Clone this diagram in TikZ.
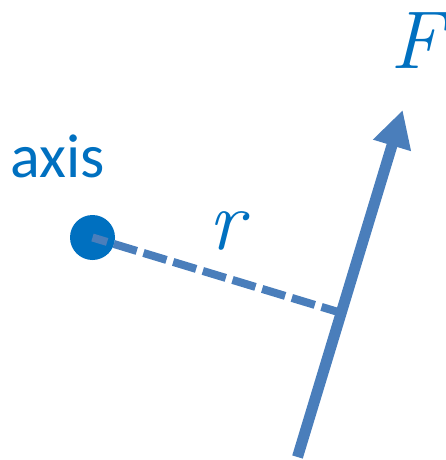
\documentclass[tikz,border=0pt]{standalone}
\usepackage{fontspec}
\usepackage{xcolor}
\usepackage{tikz}
\usetikzlibrary{calc, arrows.meta, positioning}

\newfontfamily\calibri{Carlito}
\definecolor{xanhdam}{HTML}{0070C0}
\definecolor{xanhnhat}{HTML}{4A7EBB}

\begin{document}
\begin{tikzpicture}[x=1pt, y=-1pt, >={Triangle[length=37pt, width=37pt]},
        chu/.style={inner sep=0pt, text=xanhdam}]
    % Khung của hình
    \useasboundingbox (0,0) rectangle (445,460);
    
    % Trục quay và nhãn của nó
    \node[circle, fill=xanhdam, minimum size=45pt, inner sep=0pt] (truc) at (92.5,237.5) {};
    \node[chu, anchor=base west, font=\calibri\fontsize{62}{64}\selectfont] (nhantruc) at (10.5,177) {axis};
    
    % Gốc và ngọn của lực, chân đường vuông góc
    \coordinate (goc) at (297.5,457);
    \coordinate (ngon) at (402.7,110);
    \coordinate (chan) at ($(goc)!(truc.center)!(ngon)$);
    
    % Cánh tay đòn r (nét đứt) rồi mũi tên lực F
    \draw[xanhnhat, line width=8pt, dash pattern=on 24pt off 7pt, dash phase=8.7pt] (truc.center) -- (chan);
    \draw[->, xanhnhat, line width=11pt] (goc) -- (ngon);
    
    % Nhãn r và F
    \node[chu, anchor=base west, font=\itshape\fontsize{86}{90}\selectfont] (nhanr) at (208,249) {r};
    \node[chu, anchor=base west, font=\itshape\fontsize{82}{86}\selectfont] (nhanF) at (390,68) {F};
\end{tikzpicture}
\end{document}
